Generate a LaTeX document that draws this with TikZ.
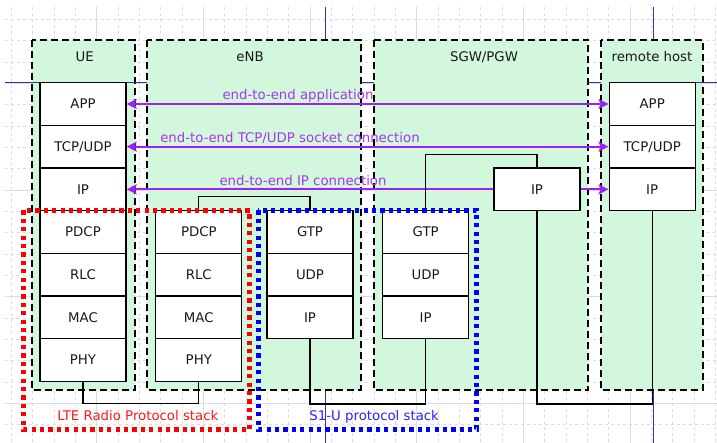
\documentclass[tikz,border=0pt]{standalone}
\usepackage{fontspec}
\setmainfont{DejaVu Sans}
\usetikzlibrary{arrows.meta}
\definecolor{boxgreen}{RGB}{210,247,220}
\definecolor{gridc}{RGB}{210,224,228}
\definecolor{guidec}{RGB}{50,50,160}
\definecolor{arrpurple}{RGB}{160,32,240}
\definecolor{txtpurple}{RGB}{165,55,236}
\tikzset{
  layer/.style={draw=black, line width=1.3pt, fill=white, minimum width=86pt, minimum height=42.67pt,
    inner sep=0pt, text height=9.6pt, text depth=0pt, font=\fontsize{13.3}{16}\selectfont, text=black!90},
  container/.style={draw=black, fill=boxgreen, line width=1.7pt, dash pattern=on 7pt off 4pt},
  conn/.style={draw=black, line width=1.3pt},
  e2e/.style={draw=arrpurple, line width=1.8pt, {Stealth[length=10pt,width=10pt,inset=2pt]}-{Stealth[length=10pt,width=10pt,inset=2pt]}},
  e2elabel/.style={anchor=base, text=txtpurple, font=\fontsize{13.3}{16}\selectfont, inner sep=0pt},
  hdr/.style={anchor=base, text=black!90, font=\fontsize{13.3}{16}\selectfont, inner sep=0pt},
  stackframe/.style={line width=5pt, dash pattern=on 4.2pt off 4.2pt},
  gridminor/.style={draw=gridc, line width=0.8pt, dash pattern=on 3pt off 3pt},
  gridmajor/.style={draw=gridc, line width=0.8pt},
  guide/.style={draw=guidec, line width=0.9pt}
}
\begin{document}
\begin{tikzpicture}[x=1pt,y=-1pt]
\useasboundingbox (0,0) rectangle (717,443);
\fill[white] (0,0) rectangle (717,443);
% grid
\foreach \k in {0,...,33} {
  \pgfmathsetmacro\xx{11.333+21.333*\k}
  \draw[gridminor] (\xx,7) -- (\xx,443);
}
\foreach \k in {1,...,20} {
  \pgfmathsetmacro\yy{-2+21.333*\k}
  \draw[gridminor] (5,\yy) -- (717,\yy);
}
\foreach \xx in {96.67,203.33,310,416.67,523.33,630} {
  \draw[gridmajor] (\xx,7) -- (\xx,443);
}
\foreach \yy in {83.33,190,296.67,403.33} {
  \draw[gridmajor] (5,\yy) -- (717,\yy);
}
% vertical guides
\coordinate (g1t) at (325.3,7);
\coordinate (g1b) at (325.3,443);
\coordinate (g2t) at (653.3,7);
\coordinate (g2b) at (653.3,443);
\draw[guide] (g1t) -- (g1b);
\draw[guide] (g2t) -- (g2b);
% containers
\draw[container] (31.7,40) rectangle (135,390);
\draw[container] (147.3,40) rectangle (360.7,390);
\draw[container] (374,40) rectangle (588.3,390);
\draw[container] (600.7,40) rectangle (702.7,390);
\node[hdr] (lue) at (84.7,61.7) {UE};
\node[hdr] (lenb) at (250,61.7) {eNB};
\node[hdr] (lsgw) at (484,61.7) {SGW/PGW};
\node[hdr] (lrh) at (652,61.7) {remote host};
% horizontal guide segments
\coordinate (h1a) at (5,82.7);   \coordinate (h1b) at (40,82.7);
\coordinate (h2a) at (126,82.7); \coordinate (h2b) at (147.3,82.7);
\coordinate (h3a) at (360.7,82.7); \coordinate (h3b) at (374,82.7);
\coordinate (h4a) at (588.3,82.7); \coordinate (h4b) at (600.7,82.7);
\coordinate (h5a) at (695,82.7); \coordinate (h5b) at (717,82.7);
\draw[guide] (h1a) -- (h1b);
\draw[guide] (h2a) -- (h2b);
\draw[guide] (h3a) -- (h3b);
\draw[guide] (h4a) -- (h4b);
\draw[guide] (h5a) -- (h5b);
% UE stack
\node[layer] (ueapp) at (83,104) {APP};
\node[layer] (uetcp) at (83,146.67) {TCP/UDP};
\node[layer] (ueip) at (83,189.33) {IP};
\node[layer] (uepdcp) at (83,232) {PDCP};
\node[layer] (uerlc) at (83,274.67) {RLC};
\node[layer] (uemac) at (83,317.33) {MAC};
\node[layer] (uephy) at (83,360) {PHY};
% remote host stack
\node[layer] (rapp) at (652.2,104) {APP};
\node[layer] (rtcp) at (652.2,146.67) {TCP/UDP};
\node[layer] (rip) at (652.2,189.33) {IP};
% end-to-end arrows
\draw[e2e] (ueapp.east) -- (rapp.west);
\draw[e2e] (uetcp.east) -- (rtcp.west);
\draw[e2e] (ueip.east) -- (rip.west);
\node[e2elabel] (l1) at (298,100) {end-to-end application};
\node[e2elabel] (l2) at (290,142.7) {end-to-end TCP/UDP socket connection};
\node[e2elabel] (l3) at (303,185.3) {end-to-end IP connection};
% eNB stacks
\node[layer] (enbpdcp) at (198.8,232) {PDCP};
\node[layer] (enbrlc) at (198.8,274.67) {RLC};
\node[layer] (enbmac) at (198.8,317.33) {MAC};
\node[layer] (enbphy) at (198.8,360) {PHY};
\node[layer] (enbgtp) at (310,232) {GTP};
\node[layer] (enbudp) at (310,274.67) {UDP};
\node[layer] (enbip) at (310,317.33) {IP};
% SGW stacks
\node[layer] (sgwgtp) at (425.7,232) {GTP};
\node[layer] (sgwudp) at (425.7,274.67) {UDP};
\node[layer] (sgwipl) at (425.7,317.33) {IP};
\node[layer] (sgwip) at (537,189.33) {IP};
% connectors
\draw[conn] (uephy.south) -- ++(0,21.6) -| (enbphy.south);
\draw[conn] (enbpdcp.north) -- ++(0,-13.4) -| (enbgtp.north);
\draw[conn] (enbip.south) -- ++(0,64.6) -| (sgwipl.south);
\draw[conn] (sgwgtp.north) -- ++(0,-55.7) -| (sgwip.north);
\draw[conn] (sgwip.south) -- ++(0,192.6) -| (rip.south);
% protocol stack frames
\draw[stackframe, draw=red] (23.3,210.5) rectangle (249.7,429);
\draw[stackframe, draw=blue] (258.3,210.5) rectangle (476.7,429);
\node[hdr, text=red!90] (llte) at (137.8,420) {LTE Radio Protocol stack};
\node[hdr, text=blue!85] (ls1u) at (374.2,420) {S1-U protocol stack};
\end{tikzpicture}
\end{document}
